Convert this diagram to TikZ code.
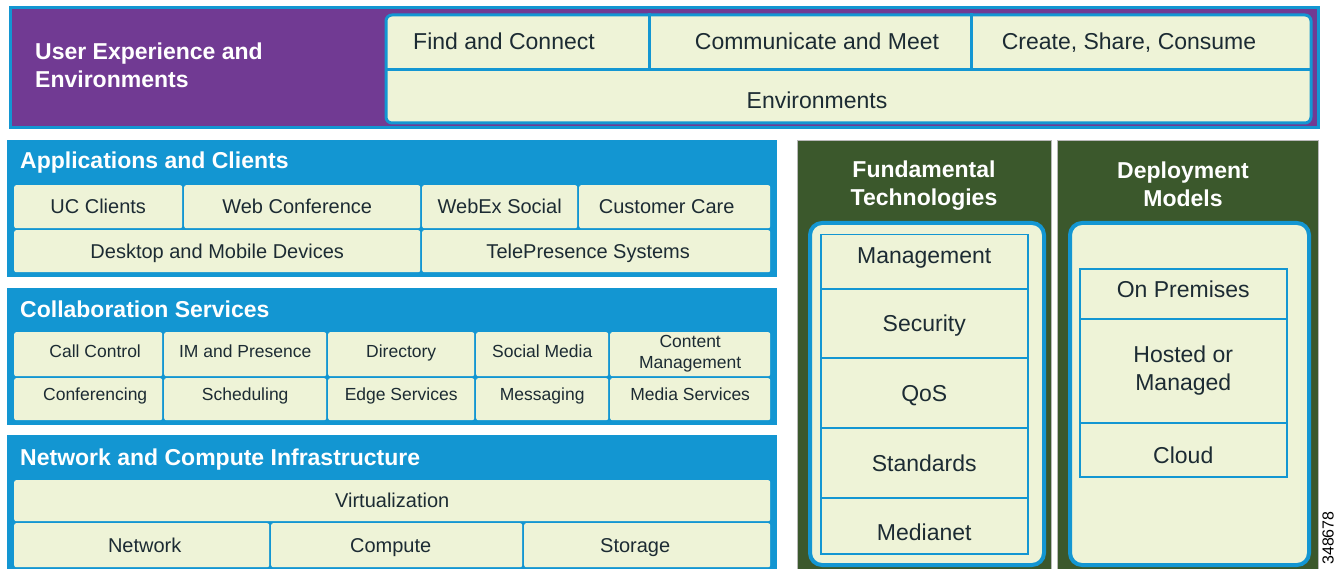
\documentclass[tikz,border=0pt]{standalone}
\usepackage{fontspec}
\setmainfont{Liberation Sans}
\definecolor{ciscoblue}{HTML}{1396D2}
\definecolor{uxpurple}{HTML}{713A93}
\definecolor{techgreen}{HTML}{3B582C}
\definecolor{cellcream}{HTML}{EEF3D7}
\definecolor{inkdark}{HTML}{1C2B33}
\tikzset{
  panel/.style={anchor=north west, inner sep=0pt, fill=ciscoblue},
  greenpanel/.style={anchor=north west, inner sep=0pt, fill=techgreen, draw=gray!55, line width=1pt},
  paneltitle/.style={anchor=base west, inner sep=0pt, align=left, text=white, font=\fontsize{23}{28}\selectfont\bfseries},
  cellbase/.style={anchor=north west, inner sep=0pt, fill=cellcream, rounded corners=2pt,
    text=inkdark, align=center, font=\fontsize{20}{24}\selectfont},
  cell/.style={cellbase, text height=19.3pt, text depth=5pt},
  smallcell/.style={cellbase, font=\fontsize{17.5}{21}\selectfont, text height=16.5pt, text depth=4pt},
  toprow/.style={smallcell, text depth=9pt, minimum height=44},
  lowrow/.style={smallcell, text depth=13pt, minimum height=42},
  bigtext/.style={text=inkdark, align=center, font=\fontsize{23}{28}\selectfont, text height=21.5pt, text depth=5pt},
  holder/.style={anchor=north west, inner sep=0pt, fill=cellcream, draw=ciscoblue, line width=4pt, rounded corners=12pt},
  stackbase/.style={anchor=north west, inner sep=0pt, draw=ciscoblue, line width=1.5pt, minimum width=207,
    text=inkdark, align=center, font=\fontsize{23}{28}\selectfont},
  stackcell/.style={stackbase, text height=21.5pt, text depth=5pt},
  divider/.style={draw=ciscoblue, line width=3pt}
}
\begin{document}
\begin{tikzpicture}[x=1pt, y=-1pt]
  \useasboundingbox (0,0) rectangle (1340,569);

  % user experience band
  \node[panel, fill=uxpurple, draw=ciscoblue, line width=3pt, minimum width=1308, minimum height=120] (uxpanel) at (8.5,6.5) {};
  \node[paneltitle, anchor=west] (uxtitle) at (35,65) {User Experience and\\Environments};
  \node[holder, line width=3pt, rounded corners=6pt, minimum width=925, minimum height=108] (uxbox) at (384.5,13.5) {};
  \draw[divider] (384.5,70) -- (1309.5,70);
  \draw[divider] (649,13.5) -- (649,70);
  \draw[divider] (971,13.5) -- (971,70);
  \node[bigtext] (find) at (504,41) {Find and Connect};
  \node[bigtext] (meet) at (817,41) {Communicate and Meet};
  \node[bigtext] (share) at (1129,41) {Create, Share, Consume};
  \node[bigtext] (envs) at (817,100) {Environments};

  % applications and clients
  \node[panel, minimum width=770, minimum height=137] (apps) at (7,140) {};
  \node[paneltitle] (appstitle) at (20,169) {Applications and Clients};
  \node[cell, minimum width=168, minimum height=43] (ucc) at (14,185) {UC Clients};
  \node[cell, minimum width=236, minimum height=43] (webconf) at (184,185) {Web Conference\hspace*{10pt}};
  \node[cell, minimum width=155, minimum height=43] (webex) at (422,185) {WebEx Social};
  \node[cell, minimum width=191, minimum height=43] (care) at (579,185) {Customer Care\hspace*{16pt}};
  \node[cell, minimum width=406, minimum height=42] (devices) at (14,230) {Desktop and Mobile Devices};
  \node[cell, minimum width=348, minimum height=42] (telep) at (422,230) {TelePresence Systems\hspace*{16pt}};

  % collaboration services
  \node[panel, minimum width=770, minimum height=137] (collab) at (7,288) {};
  \node[paneltitle] (collabtitle) at (20,317) {Collaboration Services};
  \node[toprow, minimum width=148] (callctl) at (14,332) {\hspace*{14pt}Call Control};
  \node[toprow, minimum width=162] (impres) at (164,332) {IM and Presence};
  \node[toprow, minimum width=146] (direct) at (328,332) {Directory};
  \node[toprow, minimum width=132] (social) at (476,332) {Social Media};
  \node[cellbase, font=\fontsize{17.5}{21}\selectfont, minimum width=160, minimum height=44] (content) at (610,332) {Content\\Management};
  \node[lowrow, minimum width=148] (confer) at (14,378) {\hspace*{14pt}Conferencing};
  \node[lowrow, minimum width=162] (sched) at (164,378) {Scheduling};
  \node[lowrow, minimum width=146] (edge) at (328,378) {Edge Services};
  \node[lowrow, minimum width=132] (msg) at (476,378) {Messaging};
  \node[lowrow, minimum width=160] (media) at (610,378) {Media Services};

  % network and compute
  \node[panel, minimum width=770, minimum height=135] (infra) at (7,435) {};
  \node[paneltitle] (infratitle) at (20,465) {Network and Compute Infrastructure};
  \node[cell, minimum width=756, minimum height=41] (virt) at (14,480) {Virtualization};
  \node[cell, minimum width=255, minimum height=44] (network) at (14,523) {\hspace*{6pt}Network};
  \node[cell, minimum width=251, minimum height=44] (compute) at (271,523) {Compute\hspace*{12pt}};
  \node[cell, minimum width=246, minimum height=44] (storage) at (524,523) {Storage\hspace*{24pt}};

  % fundamental technologies
  \node[greenpanel, minimum width=254, minimum height=430] (fund) at (797,140) {};
  \node[paneltitle, anchor=center, align=center] (fundtitle) at (924,186) {Fundamental\\Technologies};
  \node[holder, minimum width=234, minimum height=342] (fundbox) at (808,221) {};
  \node[stackcell, minimum height=54, text depth=19pt] (mgmt) at (820,234) {Management};
  \node[stackcell, minimum height=69] (secur) at (820,288) {Security};
  \node[stackcell, minimum height=70] (qos) at (820,357) {QoS};
  \node[stackcell, minimum height=70] (stds) at (820,427) {Standards};
  \node[stackcell, minimum height=56, text height=33.5pt] (medianet) at (820,497) {Medianet};

  % deployment models
  \node[greenpanel, minimum width=261, minimum height=430] (deploy) at (1057,140) {};
  \node[paneltitle, anchor=center, align=center] (deploytitle) at (1183,184) {Deployment\\Models};
  \node[holder, minimum width=239, minimum height=342] (deploybox) at (1068,221) {};
  \node[stackcell, minimum height=50, text depth=15pt] (onprem) at (1079,268) {On Premises};
  \node[stackbase, minimum height=104] (hosted) at (1079,318) {Hosted or\\Managed};
  \node[stackcell, minimum height=54, text height=31.5pt] (cloud) at (1079,422) {Cloud};

  \node[rotate=90, font=\fontsize{16}{16}\selectfont] (fignum) at (1328,538) {348678};
\end{tikzpicture}
\end{document}
